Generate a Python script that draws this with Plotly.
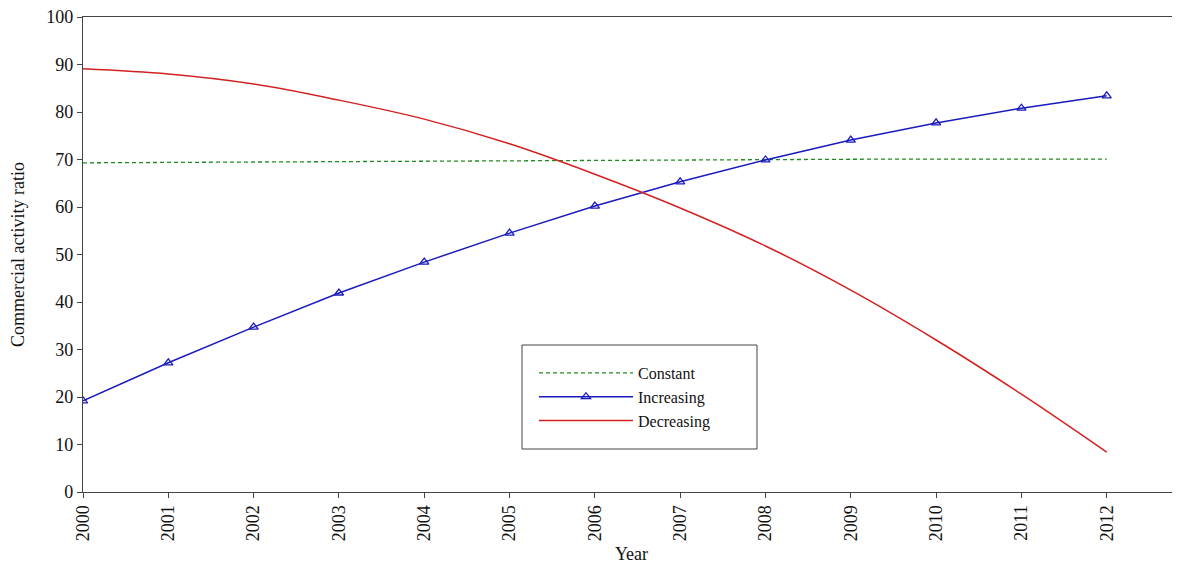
import plotly.graph_objects as go

years = list(range(2000, 2013))
constant = [69.3, 69.4, 69.5, 69.6, 69.7, 69.8, 69.9, 69.95, 70.0, 70.05, 70.1, 70.1, 70.1]
increasing = [19.2, 27.2, 34.7, 41.9, 48.4, 54.5, 60.2, 65.3, 69.9, 74.1, 77.7, 80.8, 83.4]
decreasing = [89.1, 88.0, 85.9, 82.5, 78.5, 73.3, 66.9, 59.8, 51.8, 42.5, 32.0, 20.6, 8.4]
x_ticks = [str(y) for y in years]

FONT = "Liberation Serif, Times New Roman, serif"
OFF = 8  # page body margin
W, H = 1180 - OFF, 564 - OFF
L, T = 83 - OFF, 17 - OFF
B = H - (492 - OFF)
R = 0
PW, PH = W - L - R, H - T - B


def px_x(p):
    return (p - OFF - L) / PW


def px_y(p):
    return (H - B - (p - OFF)) / PH


fig = go.Figure()
fig.add_trace(go.Scatter(x=years, y=constant, mode="lines", name="Constant",
                         line=dict(color="#1f8a1f", width=1.3, dash="4px,3px")))
fig.add_trace(go.Scatter(x=years, y=increasing, mode="lines+markers", name="Increasing",
                         line=dict(color="#1a1abf", width=1.5),
                         marker=dict(symbol="triangle-up-open", size=8, color="#1a1abf",
                                     line=dict(width=1.3))))
fig.add_trace(go.Scatter(x=years, y=decreasing, mode="lines", name="Decreasing",
                         line=dict(color="#d42020", width=1.5, shape="spline")))

fig.update_layout(
    width=W, height=H,
    margin=dict(l=L, r=R, t=T, b=B),
    paper_bgcolor="white", plot_bgcolor="white",
    font=dict(family=FONT, size=18, color="#111111"),
    showlegend=True,
    legend=dict(x=px_x(534), y=px_y(356), xanchor="left", yanchor="top",
                borderwidth=0, bgcolor="rgba(0,0,0,0)",
                font=dict(family=FONT, size=16), itemwidth=94,
                tracegroupgap=0),
    shapes=[dict(type="rect", xref="paper", yref="paper",
                 x0=px_x(522), x1=px_x(757), y0=px_y(449), y1=px_y(345),
                 line=dict(color="#444444", width=1), fillcolor="white", layer="below")],
)
fig.update_xaxes(
    range=[2000, 2000 + (1180 - 83.5) / 85.27], automargin=False,
    tickmode="array", tickvals=years, ticktext=x_ticks, tickangle=-90,
    ticks="outside", ticklen=5, tickcolor="#444444", ticklabeloverflow="allow",
    showline=True, linecolor="#444444", linewidth=1.3, mirror=True,
    showgrid=False, zeroline=False,
    title=dict(text="Year", font=dict(family=FONT, size=18), standoff=16),
)
fig.update_yaxes(
    range=[0, 100], dtick=10, automargin=False,
    ticks="outside", ticklen=5, tickcolor="#444444", ticklabeloverflow="allow",
    showline=True, linecolor="#444444", linewidth=1.3,
    showgrid=False, zeroline=False,
    title=dict(text="Commercial activity ratio", font=dict(family=FONT, size=18), standoff=23),
)

fig.write_html("out.html")
